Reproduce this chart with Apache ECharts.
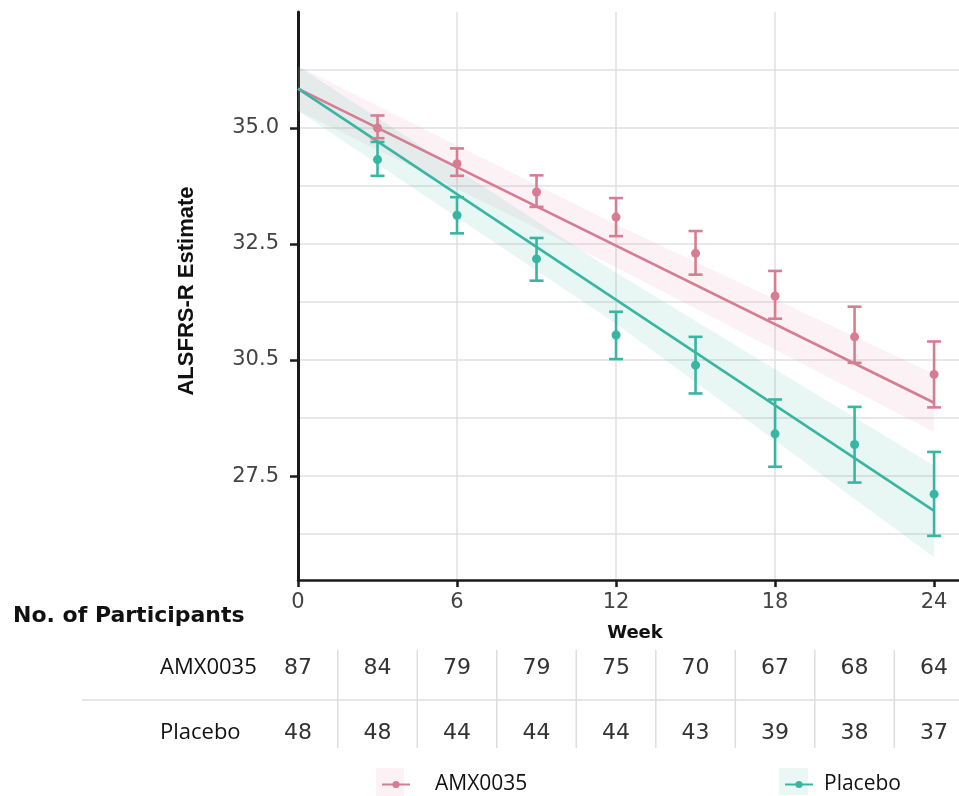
<!DOCTYPE html>
<html>
<head>
<meta charset="utf-8">
<script src="https://cdn.jsdelivr.net/npm/echarts@6/dist/echarts.min.js"></script>
<style>
  html, body { margin: 0; padding: 0; background: #ffffff; }
  #chart { width: 959px; height: 796px; }
</style>
</head>
<body>
<div id="chart"></div>
<script>
// ---- Data ----
const weeks = [3, 6, 9, 12, 15, 18, 21, 24];

const amxMean = [35.00, 34.23, 33.62, 33.08, 32.30, 31.38, 30.50, 29.69];
const amxLow  = [34.78, 33.97, 33.30, 32.67, 31.84, 30.89, 29.94, 28.98];
const amxHigh = [35.27, 34.56, 33.98, 33.49, 32.78, 31.92, 31.15, 30.40];

const placeboMean = [34.32, 33.12, 32.18, 30.54, 29.89, 28.41, 28.18, 27.11];
const placeboLow  = [33.97, 32.73, 31.71, 30.02, 29.28, 27.70, 27.36, 26.21];
const placeboHigh = [34.70, 33.51, 32.63, 31.04, 30.50, 29.15, 28.99, 28.02];

// fitted slope lines (start / end)
const fitWeeks = [0, 24];
const amxFit = [35.85, 29.08];
const placeboFit = [35.85, 26.75];

// confidence ribbons
const bandWeeks = [0, 12, 24];
const amxBandLow  = [35.37, 32.00, 28.45];
const amxBandHigh = [36.33, 32.92, 29.70];
const placeboBandLow  = [35.37, 30.78, 25.75];
const placeboBandHigh = [36.33, 31.88, 27.72];

// axis ticks
const yTickValues = [27.5, 30, 32.5, 35];
const yTickLabels = ['27.5', '30.5', '32.5', '35.0'];
const xTickValues = [0, 6, 12, 18, 24];

// participants at risk
const tableWeeks = [0, 3, 6, 9, 12, 15, 18, 21, 24];
const amxCounts = [87, 84, 79, 79, 75, 70, 67, 68, 64];
const placeboCounts = [48, 48, 44, 44, 44, 43, 39, 38, 37];

const groupNames = ['AMX0035', 'Placebo'];

// ---- Styling ----
const PINK = '#D77D93';
const TEAL = '#38B6A2';
const PINK_BAND = 'rgba(232,140,162,0.12)';
const TEAL_BAND = 'rgba(62,186,165,0.12)';
const GRID_COLOR = '#E0E0E0';
const AXIS_COLOR = '#1a1a1a';
const Y_MIN = 25.26, Y_MAX = 37.5;
const X_MIN = 0, X_MAX = 24.94;

function bandSeries(name, lows, highs, fill) {
  return {
    type: 'custom',
    name: name,
    z: 1,
    silent: true,
    data: bandWeeks.map((w, i) => [w, lows[i], highs[i]]),
    encode: { x: 0, y: [1, 2] },
    renderItem: function (params, api) {
      if (params.dataIndex !== 0) return;
      const pts = [];
      for (let i = 0; i < bandWeeks.length; i++) pts.push(api.coord([bandWeeks[i], highs[i]]));
      for (let i = bandWeeks.length - 1; i >= 0; i--) pts.push(api.coord([bandWeeks[i], lows[i]]));
      return { type: 'polygon', shape: { points: pts }, style: { fill: fill } };
    }
  };
}

function errorSeries(name, lows, highs, color) {
  return {
    type: 'custom',
    name: name,
    z: 4,
    silent: true,
    data: weeks.map((w, i) => [w, lows[i], highs[i]]),
    encode: { x: 0, y: [1, 2] },
    renderItem: function (params, api) {
      const x = api.value(0);
      const lo = api.coord([x, api.value(1)]);
      const hi = api.coord([x, api.value(2)]);
      const hw = 7;
      const st = { stroke: color, lineWidth: 2.6 };
      return {
        type: 'group',
        children: [
          { type: 'line', shape: { x1: lo[0], y1: lo[1], x2: hi[0], y2: hi[1] }, style: st },
          { type: 'line', shape: { x1: lo[0] - hw, y1: lo[1], x2: lo[0] + hw, y2: lo[1] }, style: st },
          { type: 'line', shape: { x1: hi[0] - hw, y1: hi[1], x2: hi[0] + hw, y2: hi[1] }, style: st }
        ]
      };
    }
  };
}

function fitSeries(name, values, color) {
  return {
    type: 'line',
    name: name,
    z: 3,
    symbol: 'circle',
    showSymbol: false,
    itemStyle: { color: color },
    lineStyle: { color: color, width: 2.6 },
    data: fitWeeks.map((w, i) => [w, values[i]])
  };
}

function pointSeries(name, values, color) {
  return {
    type: 'scatter',
    name: name,
    z: 5,
    symbol: 'circle',
    symbolSize: 9,
    itemStyle: { color: color, opacity: 1 },
    data: weeks.map((w, i) => [w, values[i]])
  };
}

function legendText(padLeft) {
  return {
    fontFamily: 'Open Sans',
    fontSize: 21,
    color: '#111111',
    padding: [0, 0, 0, padLeft]
  };
}

const option = {
  animation: false,
  backgroundColor: '#ffffff',
  grid: { left: 298, right: 0, top: 12, bottom: 216, containLabel: false },
  xAxis: {
    type: 'value',
    min: X_MIN,
    max: X_MAX,
    interval: 3,
    name: 'Week',
    nameLocation: 'middle',
    nameGap: 44,
    nameTextStyle: {
      fontFamily: 'DejaVu Sans', fontWeight: 'bold', fontSize: 18, color: '#111111',
      padding: [0, 0, 0, 13]
    },
    axisLine: { show: true, onZero: false, lineStyle: { color: AXIS_COLOR, width: 2.5 } },
    axisTick: { show: true, customValues: xTickValues, length: 7, lineStyle: { color: AXIS_COLOR, width: 2.5 } },
    axisLabel: {
      customValues: xTickValues,
      margin: 12,
      fontFamily: 'DejaVu Sans', fontSize: 21, color: '#444444'
    },
    splitLine: { show: true, showMinLine: false, showMaxLine: false, lineStyle: { color: GRID_COLOR, width: 1.5 } }
  },
  yAxis: [
    {
      type: 'value',
      min: Y_MIN,
      max: Y_MAX,
      name: 'ALSFRS-R Estimate',
      nameLocation: 'middle',
      nameRotate: 90,
      nameGap: 100,
      nameTextStyle: {
        fontFamily: 'Liberation Sans', fontWeight: 'bold', fontSize: 22, color: '#111111',
        padding: [0, 0, 0, 10]
      },
      axisLine: { show: true, onZero: false, lineStyle: { color: AXIS_COLOR, width: 3 } },
      axisTick: { show: true, customValues: yTickValues, length: 8, lineStyle: { color: AXIS_COLOR, width: 2.5 } },
      axisLabel: {
        customValues: yTickValues,
        margin: 19,
        fontFamily: 'DejaVu Sans', fontSize: 21, color: '#444444',
        formatter: function (v) {
          const i = yTickValues.indexOf(v);
          return i >= 0 ? yTickLabels[i] : '';
        }
      },
      splitLine: { show: false }
    },
    {
      // gridline helper: measured downward from the top of the panel
      type: 'value',
      inverse: true,
      min: 0,
      max: Y_MAX - Y_MIN,
      interval: 1.25,
      axisLine: { show: false },
      axisTick: { show: false },
      axisLabel: { show: false },
      splitLine: { show: true, showMinLine: false, showMaxLine: false, lineStyle: { color: GRID_COLOR, width: 1.5 } }
    }
  ],
  legend: [
    {
      data: ['AMX0035'], left: 376, top: 769, itemWidth: 28, itemHeight: 9,
      selectedMode: false, textStyle: legendText(20)
    },
    {
      data: ['Placebo'], left: 779, top: 769, itemWidth: 28, itemHeight: 9,
      selectedMode: false, textStyle: legendText(6)
    }
  ],
  series: [
    fitSeries('AMX0035', amxFit, PINK),
    fitSeries('Placebo', placeboFit, TEAL),
    bandSeries('AMX0035 ribbon', amxBandLow, amxBandHigh, PINK_BAND),
    bandSeries('Placebo ribbon', placeboBandLow, placeboBandHigh, TEAL_BAND),
    errorSeries('AMX0035 interval', amxLow, amxHigh, PINK),
    errorSeries('Placebo interval', placeboLow, placeboHigh, TEAL),
    pointSeries('AMX0035 estimate', amxMean, PINK),
    pointSeries('Placebo estimate', placeboMean, TEAL)
  ]
};

const chart = echarts.init(document.getElementById('chart'), null, { renderer: 'canvas' });
chart.setOption(option);

// ---- Participants table and legend key backgrounds ----
const px = w => chart.convertToPixel({ xAxisIndex: 0 }, w);
const rowY = [668, 733];
const rowCounts = [amxCounts, placeboCounts];
const graphics = [];

graphics.push({
  type: 'text', x: 13, y: 616, silent: true,
  style: {
    text: 'No. of Participants', fill: '#111111',
    font: 'bold 22px "DejaVu Sans"', align: 'left', verticalAlign: 'middle'
  }
});

groupNames.forEach((name, r) => {
  graphics.push({
    type: 'text', x: 160, y: rowY[r], silent: true,
    style: { text: name, fill: '#111111', font: '22px "Open Sans"', align: 'left', verticalAlign: 'middle' }
  });
  tableWeeks.forEach((w, i) => {
    graphics.push({
      type: 'text', x: px(w), y: rowY[r], silent: true,
      style: { text: String(rowCounts[r][i]), fill: '#333333', font: '22px "DejaVu Sans"', align: 'center', verticalAlign: 'middle' }
    });
  });
});

graphics.push({
  type: 'line', silent: true,
  shape: { x1: 82, y1: 700, x2: 959, y2: 700 },
  style: { stroke: '#DDDDDD', lineWidth: 1.5 }
});
for (let i = 0; i < tableWeeks.length - 1; i++) {
  const x = px((tableWeeks[i] + tableWeeks[i + 1]) / 2);
  graphics.push({
    type: 'line', silent: true,
    shape: { x1: x, y1: 650, x2: x, y2: 748 },
    style: { stroke: '#DDDDDD', lineWidth: 1.5 }
  });
}

// pale key boxes behind the legend symbols
graphics.push({ type: 'rect', z: -1, silent: true, shape: { x: 376, y: 768, width: 28, height: 28 }, style: { fill: 'rgba(232,140,162,0.12)' } });
graphics.push({ type: 'rect', z: -1, silent: true, shape: { x: 779, y: 768, width: 29, height: 27 }, style: { fill: 'rgba(62,186,165,0.11)' } });

chart.setOption({ graphic: graphics });
</script>
</body>
</html>
